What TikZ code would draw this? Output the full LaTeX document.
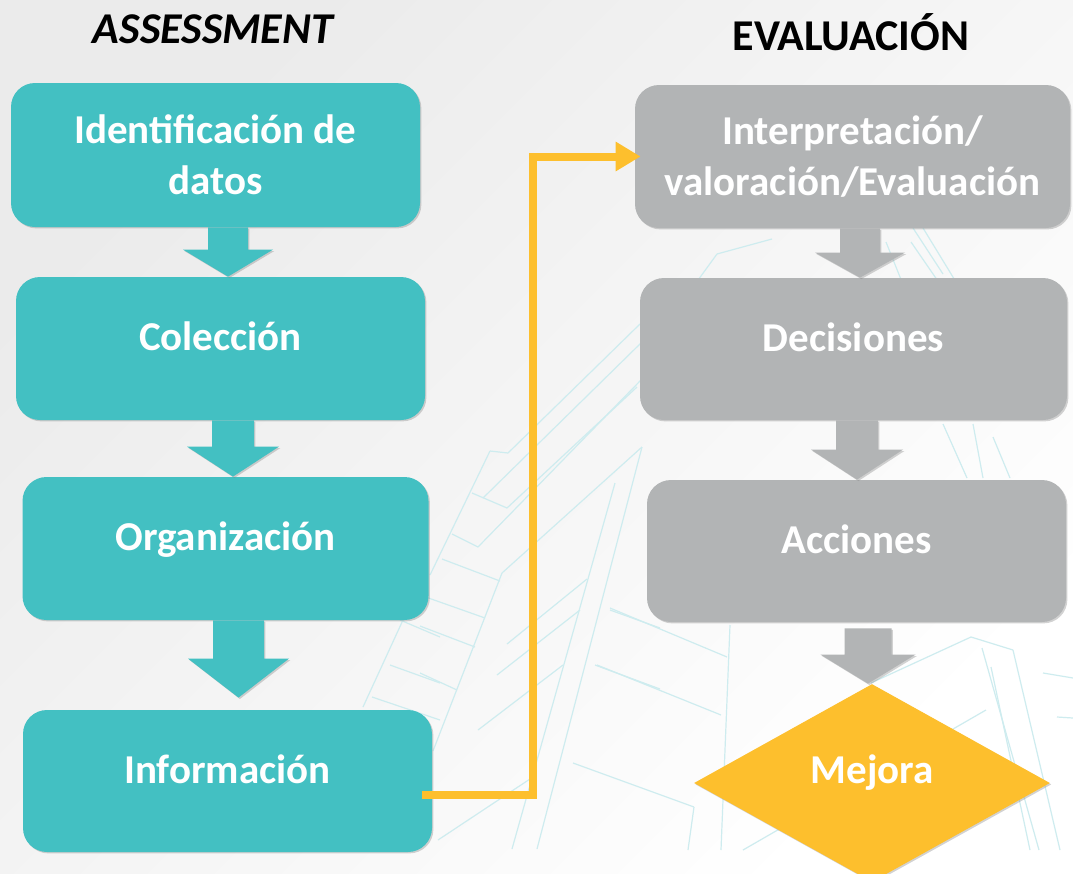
\documentclass[tikz,border=0pt]{standalone}
\usepackage{fontspec}
\setmainfont{Carlito}
\usepackage{tikz}
\usetikzlibrary{shapes.geometric,arrows.meta,calc,shadows}

\definecolor{tealbox}{RGB}{67,192,194}
\definecolor{graybox}{RGB}{178,180,181}
\definecolor{gold}{RGB}{253,191,45}
\definecolor{faint}{RGB}{206,236,239}

% block arrow: colour, start, tip, half shaft, half head, head length
\newcommand{\blockarrow}[6]{%
  \fill[#1,SH] ($(#2)+(-#4,0)$) -- ($(#2)+(#4,0)$) -- ($(#3)+(#4,#6)$) -- ($(#3)+(#5,#6)$)
    -- (#3) -- ($(#3)+(-#5,#6)$) -- ($(#3)+(-#4,#6)$) -- cycle;}

\begin{document}
\begin{tikzpicture}[x=0.5pt,y=-0.5pt]
      \useasboundingbox (0,0) rectangle (1073,874);
      \clip (0,0) rectangle (1073,874);
      \tikzset{SH/.style = {drop shadow={shadow xshift=0.7pt,shadow yshift=-0.7pt,opacity=0.35}}}
      \tikzset{TB/.style = {shape=rectangle, rounded corners=12pt, fill=tealbox, text=white, align=center, inner sep=0pt, font=\bfseries\fontsize{20.5}{25.5}\selectfont, SH}}
      \tikzset{GB/.style = {TB, fill=graybox}}
      \tikzset{ONE/.style = {text height=15pt, text depth=13pt}}
      \tikzset{MD/.style = {shape=diamond, fill=gold, text=white, inner sep=0pt, minimum width=178pt, minimum height=99pt, text height=12pt, text depth=12pt, font=\bfseries\fontsize{20.5}{25.5}\selectfont, SH}}
      \tikzset{HD/.style = {text=black, anchor=base, font=\bfseries\fontsize{22}{26}\selectfont}}
      \tikzset{YL/.style = {draw=gold, line width=4pt, -{Triangle[length=12.5pt,width=14pt]}}}
      \tikzset{BG/.style = {draw=faint, line width=0.6pt}}
      % background
      \shade[top color=black!8, bottom color=white, shading angle=45] (0,0) rectangle (1073,874);
      \foreach \xa/\ya/\xb/\yb in {640/324/508/453, 508/453/490/451, 490/451/430/575, 642/342/483/498,
          642/379/478/547, 472/493/507/508, 507/508/637/387, 452/534/478/547, 442/559/500/581,
          502/573/642/447, 502/573/433/751, 642/447/537/849, 615/483/512/849, 507/644/587/579,
          497/675/580/610, 478/730/563/665, 420/595/485/618, 420/626/475/647, 420/673/457/690,
          438/840/530/779, 610/610/660/628, 595/665/660/689, 573/763/694/807, 694/807/688/850,
          610/608/727/657, 597/665/721/715, 730/625/721/850, 743/850/986/710, 871/683/971/637,
          971/637/1013/650, 982/648/1039/850, 991/667/1030/850, 1013/650/1060/850, 1043/673/1073/678,
          1057/717/1073/718, 913/228/943/274, 923/228/967/300, 943/424/967/478, 973/424/983/478,
          993/437/1010/478, 693/287/717/254, 717/254/772/239, 886/242/904/287, 911/242/942/287,
          400/620/440/637, 390/665/440/683, 372/697/440/720, 363/707/403/620}
        \draw[BG] (\xa,\ya) -- (\xb,\yb);
      % titles
      \node[HD, font=\bfseries\itshape\fontsize{22}{26}\selectfont] (ass) at (213,43) {ASSESSMENT};
      \node[HD] (eva) at (851,50) {EVALUACIÓN};
      % assessment column
      \node[TB, minimum width=204.5pt, minimum height=72pt] (idn) at (215.5,155) {Identificación de\\datos};
      \node[TB, ONE, minimum width=204.5pt, minimum height=71.5pt] (col) at (220.5,348.5) {Colección};
      \node[TB, ONE, minimum width=203pt, minimum height=71.5pt] (org) at (225.5,548.5) {Organización};
      \node[TB, ONE, minimum width=204.5pt, minimum height=71pt] (inf) at (227.5,781) {Información};
      % evaluacion column
      \node[GB, minimum width=217.5pt, minimum height=71.5pt] (itp) at (852.5,156.5) {Interpretación/\\valoración/Evaluación};
      \node[GB, ONE, minimum width=213.5pt, minimum height=71pt] (dec) at (853.5,349) {Decisiones};
      \node[GB, ONE, minimum width=209.5pt, minimum height=71pt] (acc) at (856.5,551) {Acciones};
      \node[MD] (mej) at (872,783) {Mejora};
      % arrows
      \coordinate (a1s) at ([xshift=6.25pt]idn.south);
      \coordinate (a1e) at ([xshift=3.75pt]col.north);
      \coordinate (a2s) at ([xshift=6.25pt]col.south);
      \coordinate (a2e) at ([xshift=3.75pt]org.north);
      \coordinate (a3s) at ([xshift=6.5pt]org.south);
      \coordinate (a3e) at ([xshift=5.5pt,yshift=6pt]inf.north);
      \coordinate (g1s) at ([xshift=3.75pt]itp.south);
      \coordinate (g1e) at ([xshift=3.25pt]dec.north);
      \coordinate (g2s) at ([xshift=1.75pt]dec.south);
      \coordinate (g2e) at ([xshift=0.25pt]acc.north);
      \coordinate (g3s) at ([xshift=5.75pt,yshift=-3pt]acc.south);
      \coordinate (g3e) at ([xshift=-2pt]mej.north);
      \blockarrow{tealbox}{a1s}{a1e}{10pt}{22.5pt}{13.5pt}
      \blockarrow{tealbox}{a2s}{a2e}{10.5pt}{23pt}{15pt}
      \blockarrow{tealbox}{a3s}{a3e}{12.75pt}{25.25pt}{19.5pt}
      \blockarrow{graybox}{g1s}{g1e}{10pt}{22.5pt}{12.5pt}
      \blockarrow{graybox}{g2s}{g2e}{10.5pt}{23pt}{15pt}
      \blockarrow{graybox}{g3s}{g3e}{11.75pt}{23.75pt}{14.5pt}
      \draw[YL] ([xshift=-5pt,yshift=-7pt]inf.east) -| ([xshift=-51pt]itp.west) -- ([xshift=3pt]itp.west);
\end{tikzpicture}
\end{document}
